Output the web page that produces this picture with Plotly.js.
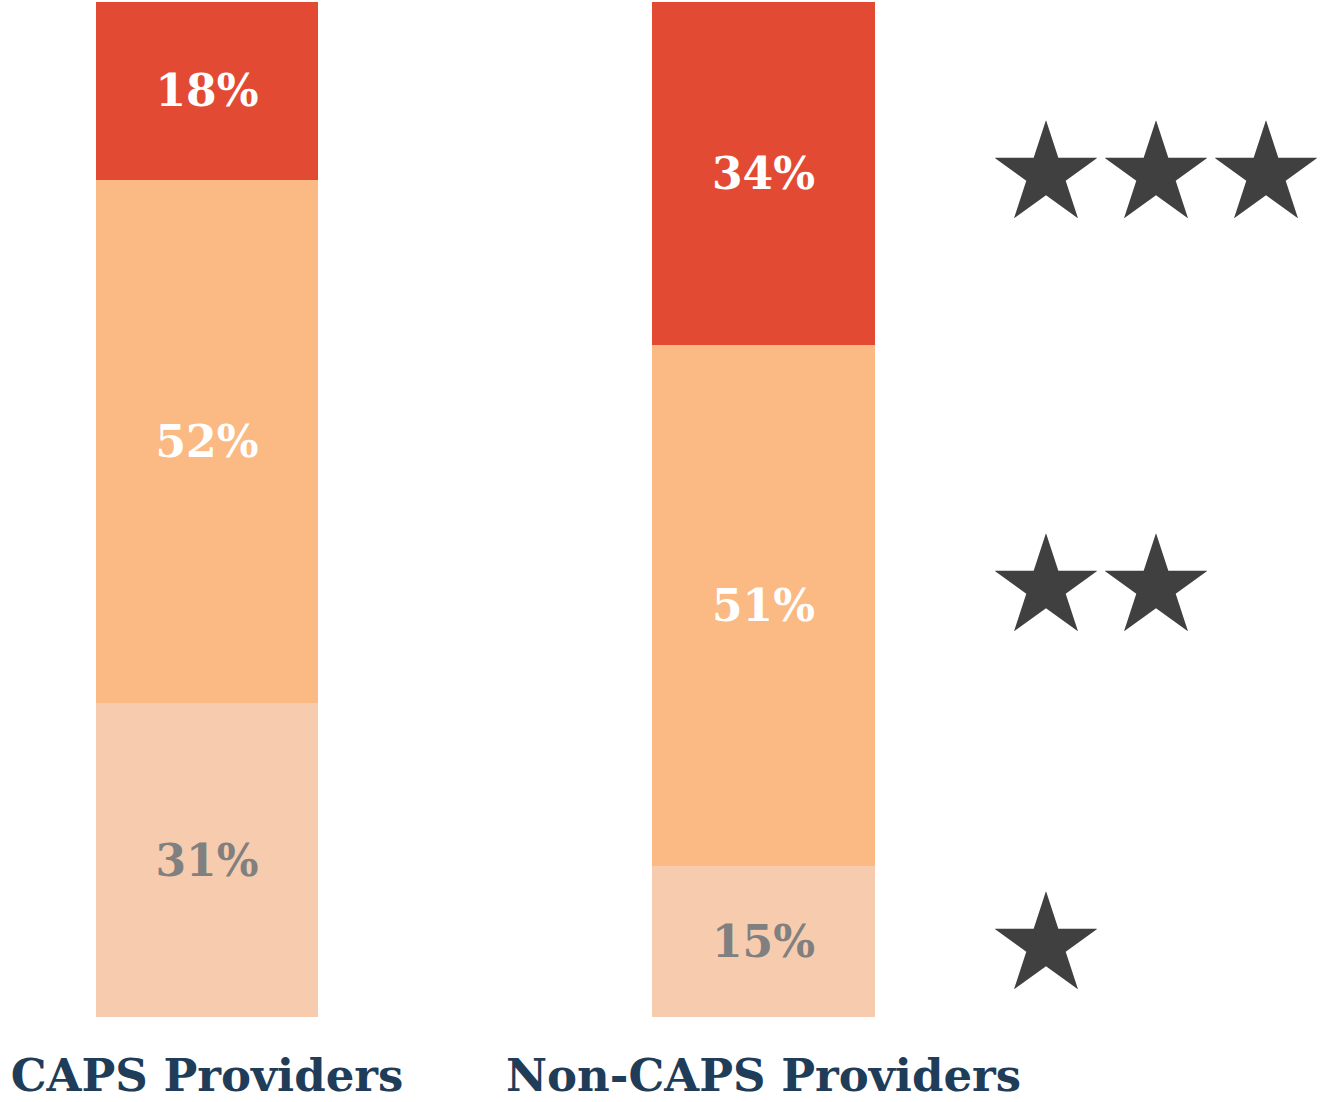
<!DOCTYPE html>
<html>
<head>
<meta charset="utf-8">
<script src="https://cdn.plot.ly/plotly-3.0.1.min.js"></script>
<style>html,body{margin:0;padding:0;background:#fff;}#chart{width:1332px;height:1102px;}</style>
</head>
<body>
<div id="chart"></div>
<script>
const categories = ["CAPS Providers", "Non-CAPS Providers"];
const oneStar = [30.9, 14.9];
const twoStar = [51.6, 51.3];
const threeStar = [17.5, 33.8];
const oneStarLabels = ["31%", "15%"];
const twoStarLabels = ["52%", "51%"];
const threeStarLabels = ["18%", "34%"];
const starLabels = ["★", "★★", "★★★"];

const fontFam = "DejaVu Serif, serif";
function barTrace(y, text, color, textColor) {
  return {
    type: "bar", x: categories, y: y, text: text,
    textposition: "inside", insidetextanchor: "middle",
    textfont: {family: fontFam, size: 44, color: textColor, weight: "bold"},
    marker: {color: color, line: {width: 0}},
    width: 0.4, hoverinfo: "none", cliponaxis: false,
    constraintext: "none"
  };
}
const data = [
  barTrace(oneStar, oneStarLabels, "#f7cbad", "#808080"),
  barTrace(twoStar, twoStarLabels, "#fbb984", "#ffffff"),
  barTrace(threeStar, threeStarLabels, "#e34a33", "#ffffff")
];
// star annotations beside the Non-CAPS segments
const nc = [oneStar[1], twoStar[1], threeStar[1]];
const shifts = [7, 29, 11];
let base = 0;
const annotations = [];
for (let i = 0; i < 3; i++) {
  annotations.push({
    x: 1.405, y: base + nc[i] / 2, xref: "x", yref: "y",
    xanchor: "left", yanchor: "middle", showarrow: false,
    yshift: shifts[i],
    text: starLabels[i],
    font: {family: "Noto Sans CJK SC", size: 110, color: "#404040"}
  });
  base += nc[i];
}
const layout = {
  width: 1332, height: 1102,
  margin: {l: 0, r: 0, t: 2, b: 85},
  paper_bgcolor: "#fff", plot_bgcolor: "#fff",
  barmode: "stack", bargap: 0.6, showlegend: false,
  xaxis: {type: "category", range: [-0.372, 2.0216], showgrid: false, zeroline: false,
    showline: false, ticks: "", ticklabelstandoff: 28,
    tickfont: {family: fontFam, size: 45, color: "#1f3d59", weight: "bold"}},
  yaxis: {range: [0, 100], visible: false, showgrid: false, zeroline: false},
  annotations: annotations
};
Plotly.newPlot("chart", data, layout, {displayModeBar: false, staticPlot: true});
</script>
</body>
</html>
